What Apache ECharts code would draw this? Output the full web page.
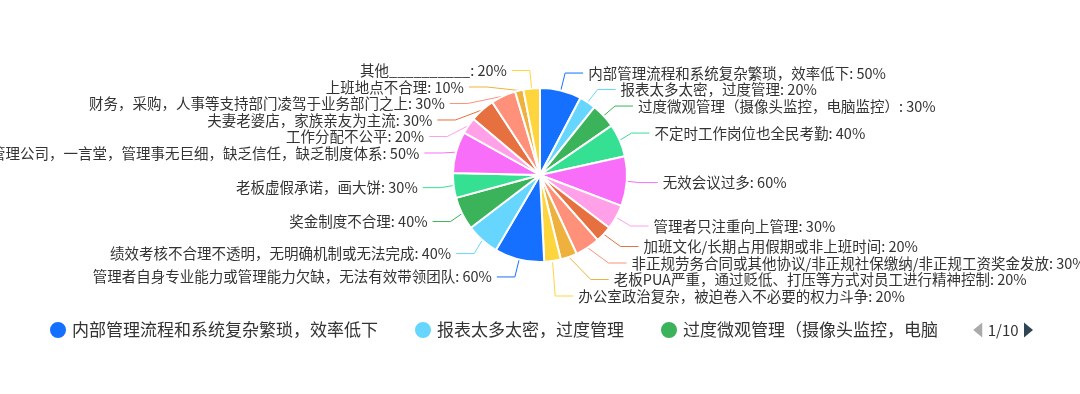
<!DOCTYPE html>
<html>
<head>
<meta charset="utf-8">
<script src="https://cdn.jsdelivr.net/npm/echarts@6/dist/echarts.min.js"></script>
<style>
  html, body { margin: 0; padding: 0; background: #fff; }
  #chart { width: 1080px; height: 394px; }
</style>
</head>
<body>
<div id="chart"></div>
<script>
const reasons = [
  '内部管理流程和系统复杂繁琐，效率低下',
  '报表太多太密，过度管理',
  '过度微观管理（摄像头监控，电脑监控）',
  '不定时工作岗位也全民考勤',
  '无效会议过多',
  '管理者只注重向上管理',
  '加班文化/长期占用假期或非上班时间',
  '非正规劳务合同或其他协议/非正规社保缴纳/非正规工资奖金发放',
  '老板PUA严重，通过贬低、打压等方式对员工进行精神控制',
  '办公室政治复杂，被迫卷入不必要的权力斗争',
  '管理者自身专业能力或管理能力欠缺，无法有效带领团队',
  '绩效考核不合理不透明，无明确机制或无法完成',
  '奖金制度不合理',
  '老板虚假承诺，画大饼',
  '老板管理公司，一言堂，管理事无巨细，缺乏信任，缺乏制度体系',
  '工作分配不公平',
  '夫妻老婆店，家族亲友为主流',
  '财务，采购，人事等支持部门凌驾于业务部门之上',
  '上班地点不合理',
  '其他__________'
];
const percents = [50, 20, 30, 40, 60, 30, 20, 30, 20, 20, 60, 40, 40, 30, 50, 20, 30, 30, 10, 20];
const palette = ['#1570FF', '#66D6FF', '#3BB35A', '#35E093', '#F96EF9',
                 '#FFA0E8', '#E6703F', '#FF917B', '#EFB13E', '#FFD53E'];

const chart = echarts.init(document.getElementById('chart'));
const font = '"Noto Sans CJK SC", "Noto Sans", sans-serif';

chart.setOption({
  color: palette,
  textStyle: { fontFamily: font },
  legend: {
    type: 'scroll',
    orient: 'horizontal',
    left: 43,
    top: 315,
    width: 985,
    icon: 'circle',
    itemWidth: 18,
    itemHeight: 18,
    itemGap: 35,
    textStyle: { fontSize: 17, color: '#333', fontFamily: font },
    pageIconSize: 15,
    pageButtonItemGap: 3,
    pageIconColor: '#2f4554',
    pageIconInactiveColor: '#aaa',
    pageTextStyle: { fontSize: 15, color: '#333', fontFamily: font }
  },
  series: [{
    type: 'pie',
    center: ['50%', 175],
    radius: 87,
    startAngle: 90,
    clockwise: true,
    avoidLabelOverlap: true,
    itemStyle: { borderColor: '#fff', borderWidth: 2 },
    label: {
      formatter: '{b}: {c}%',
      fontSize: 14.5,
      lineHeight: 13,
      padding: [-1, 0, -1, 0],
      color: '#333',
      fontFamily: font,
      overflow: 'none'
    },
    labelLine: { length: 18, length2: 18 },
    data: reasons.map((name, i) => ({ name: name, value: percents[i] }))
  }]
});
</script>
</body>
</html>
